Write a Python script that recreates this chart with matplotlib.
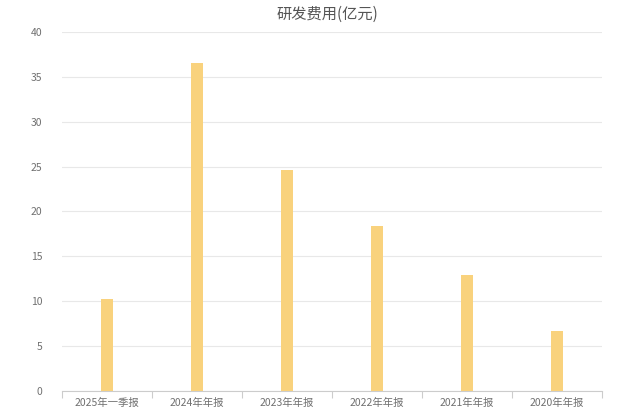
import matplotlib.pyplot as plt
import numpy as np

plt.rcParams['font.family'] = ['Noto Sans CJK SC', 'DejaVu Sans']

categories = ["2025年一季报", "2024年年报", "2023年年报", "2022年年报", "2021年年报", "2020年年报"]
values = [10.25, 36.55, 24.65, 18.4, 12.9, 6.65]

fig = plt.figure(figsize=(6.4, 4.2), dpi=100)
ax = fig.add_axes([0.097, 0.069, 0.844, 0.855])

x = np.arange(len(categories))
ax.bar(x, values, width=0.13, color="#F9D27D", zorder=3)

ax.set_xlim(-0.5, len(categories) - 0.5)
ax.set_ylim(0, 40)
ax.set_yticks(np.arange(0, 41, 5))
ax.grid(axis="y", color="#e8e8e8", linewidth=0.8, zorder=0)

ax.set_xticks(x)
ax.set_xticklabels(categories)
ax.set_xticks(np.arange(-0.5, len(categories), 1), minor=True)
ax.tick_params(axis="x", which="major", length=0, labelsize=7.5, labelcolor="#707070", pad=5)
ax.tick_params(axis="x", which="minor", length=5, color="#cccccc", width=0.8)
ax.tick_params(axis="y", length=0, labelsize=7.5, labelcolor="#707070", pad=14)

for s in ["top", "right", "left"]:
    ax.spines[s].set_visible(False)
ax.spines["bottom"].set_color("#cccccc")
ax.spines["bottom"].set_linewidth(0.8)

fig.text(0.511, 0.965, "研发费用(亿元)", ha="center", va="center", fontsize=11, color="#555555")

fig.savefig("out.png")
